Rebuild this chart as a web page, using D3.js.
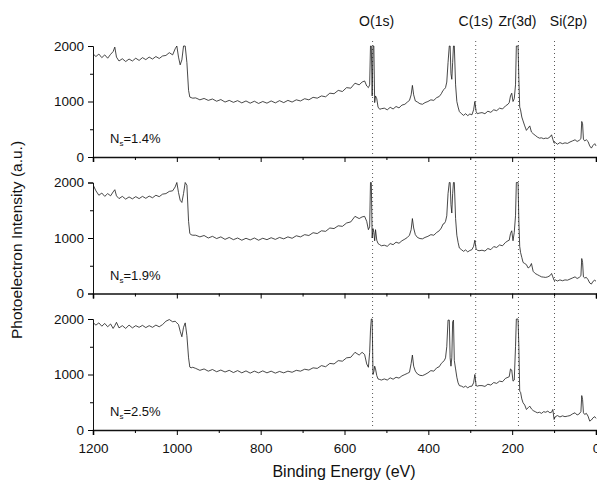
<!DOCTYPE html>
<html>
<head>
<meta charset="utf-8">
<script src="https://cdn.jsdelivr.net/npm/d3@7"></script>
<style>
  body { margin: 0; background: #fff; }
  svg { display: block; font-family: Arial, "Liberation Sans", sans-serif; }
</style>
</head>
<body>
<div id="chart"></div>
<script>
// ===== Data =====
const energy = [
  1200,1193,1186,1179,1172,1165,1158,1152,1148,1144,1138,1130,1122,1114,1106,1098,1090,1082,1074,1066,1058,1050,1042,1034,1026,1018,1010,
  1004,1000,996,992,988,984,980,976,972,969,966,962,
  955,945,935,925,915,905,895,885,875,865,855,845,835,825,815,805,795,785,775,765,755,745,735,725,715,705,695,685,675,665,655,645,635,625,615,605,595,585,575,565,
  558,552,547,543,540,538,536,534,532,530,528,526,523,520,516,512,
  505,498,491,484,477,470,463,456,
  450,445,441,438,435,431,426,420,414,
  408,401,394,387,380,374,369,365,
  362,359,356,353,350,348,346,344,342,340,338,335,332,329,326,
  321,316,311,306,301,296,
  292,289,286,283,279,
  272,265,258,251,244,237,230,223,216,210,
  207,204,201,198,195,192,190,188,186,184,182,180,177,
  174,170,166,162,158,154,150,145,140,135,130,125,120,115,110,106,
  103,100,97,92,86,80,74,68,62,56,50,45,40,36,34,32,30,27,23,19,15,11,7,3,0
];

const ns14 = [
  1860,1810,1855,1790,1840,1780,1850,1900,1980,1800,1730,1770,1720,1765,1730,1780,1740,1790,1755,1800,1765,1810,1775,1820,1830,1880,1840,
  1950,2000,1800,1660,1750,2000,2000,1700,1200,1080,1070,1060,
  1065,1030,1055,1020,1045,1005,1035,990,1020,985,1015,975,1010,970,1005,965,1000,970,1010,975,1015,980,1020,990,1030,1010,1050,1030,1075,1060,1100,1085,1150,1140,1200,1180,1250,1240,1330,1300,
  1350,1370,1280,1250,1300,2000,2000,1100,2000,2000,980,1100,1050,900,860,870,
  880,850,895,865,910,885,935,950,
  990,1020,1120,1290,1120,1010,990,960,950,
  980,1000,1030,1020,1070,1090,1140,1200,
  1220,1250,1350,1700,2000,2000,1500,1400,1700,2000,2000,1300,1000,900,820,
  780,750,780,745,775,760,
  850,1000,820,780,790,
  800,780,825,805,850,835,880,865,920,950,
  980,1100,1150,1000,1050,1300,2000,2000,2000,1400,900,850,720,
  650,560,480,520,560,450,420,390,360,340,345,330,340,335,360,400,
  320,250,260,230,260,240,255,245,270,290,310,280,300,330,640,600,320,290,310,280,200,160,210,240,200
];

const ns19 = [
  1960,1850,1770,1810,1750,1800,1760,1830,1870,1760,1710,1750,1700,1740,1705,1745,1710,1750,1715,1755,1725,1770,1745,1790,1800,1840,1850,
  1920,2000,1820,1680,1640,1800,2000,1950,1300,1080,1060,1050,
  1050,1020,1045,1000,1030,990,1020,975,1010,970,1000,960,995,965,1000,960,995,970,1005,975,1010,985,1020,995,1040,1020,1060,1045,1095,1080,1130,1120,1180,1170,1220,1210,1270,1290,1390,1350,
  1380,1390,1300,1150,1200,2000,2000,1000,1170,1100,950,1150,960,900,880,860,
  870,850,900,880,925,905,950,980,
  1010,1050,1150,1350,1180,1060,1010,990,985,
  1010,1030,1060,1050,1100,1130,1180,1250,
  1260,1300,1400,1800,2000,2000,1600,1450,1800,2000,2000,1350,1050,920,820,
  790,760,785,750,775,790,
  850,960,800,780,770,
  780,765,810,790,845,830,875,860,920,950,
  960,1080,1130,950,1100,1400,2000,2000,2000,1300,850,740,650,
  560,540,520,460,480,540,400,360,340,320,300,295,290,300,320,360,
  300,235,245,225,245,230,245,240,260,280,300,270,290,320,630,560,300,280,290,250,190,170,220,240,220
];

const ns25 = [
  1935,1890,1930,1870,1920,1860,1910,1830,1880,1940,1840,1880,1830,1890,1840,1880,1850,1885,1845,1880,1850,1890,1860,1900,1960,1990,1950,
  1960,1930,1900,1780,1680,1850,1930,1700,1300,1134,1120,1130,
  1110,1075,1100,1060,1090,1050,1080,1045,1075,1035,1070,1030,1065,1025,1060,1030,1065,1030,1060,1025,1055,1030,1060,1040,1075,1060,1095,1080,1120,1110,1160,1140,1200,1190,1250,1240,1300,1310,1400,1350,
  1400,1360,1190,1130,1400,1800,2000,2000,1000,1050,1150,1100,980,920,910,900,
  920,900,940,915,950,935,975,1000,
  1020,1040,1200,1350,1150,1060,1010,985,980,
  1000,1030,1070,1060,1120,1140,1200,1230,
  1250,1300,1500,1980,1980,1300,1150,1300,1950,1980,1250,1100,950,850,800,
  790,770,790,760,785,790,
  850,1000,800,790,800,
  800,785,825,810,855,840,880,870,930,950,
  960,1100,1080,880,900,1500,2000,2000,2000,1500,700,680,560,
  490,450,370,400,430,380,350,330,310,320,300,330,320,340,310,320,
  370,190,240,260,235,255,240,250,260,290,310,270,290,330,620,550,310,280,300,250,160,180,220,240,210
];

const series = [ns14, ns19, ns25];
const panelLabels = ['1.4%', '1.9%', '2.5%'];

const peakNames = ['O(1s)', 'C(1s)', 'Zr(3d)', 'Si(2p)'];
const peakEnergies = [533, 287, 185, 99];

const xMajorTicks = [1200, 1000, 800, 600, 400, 200, 0];
const xMinorTicks = [1100, 900, 700, 500, 300, 100];
const yMajorTicks = [0, 1000, 2000];
const yMinorTicks = [500, 1500];

// ===== Layout =====
const W = 597, H = 483;
const plotLeft = 93, plotRight = 596;
const panelTop0 = 46, panelStep = 136.5, panelH = 111;
const labelDx = [4, 0, -1, 14]; // peak label offsets from their dotted lines

const svg = d3.select('#chart')
  .append('svg')
  .attr('width', W)
  .attr('height', H);

const x = d3.scaleLinear()
  .domain([1200, 0])
  .range([plotLeft, plotRight]);

svg.append('defs').append('clipPath')
  .attr('id', 'plotclip')
  .append('rect')
  .attr('x', plotLeft)
  .attr('y', -2)
  .attr('width', plotRight - plotLeft + 1)
  .attr('height', panelH + 2);

// dotted reference lines through all panels
svg.append('g')
  .selectAll('line')
  .data(peakEnergies)
  .enter().append('line')
  .attr('x1', d => x(d))
  .attr('x2', d => x(d))
  .attr('y1', 41)
  .attr('y2', 427)
  .attr('stroke', '#444')
  .attr('stroke-width', 0.9)
  .attr('stroke-dasharray', '1,3');

svg.append('g')
  .selectAll('text')
  .data(peakNames)
  .enter().append('text')
  .attr('x', (d, i) => x(peakEnergies[i]) + labelDx[i])
  .attr('y', 26)
  .attr('text-anchor', 'middle')
  .attr('font-size', 14)
  .attr('fill', '#111')
  .text(d => d);

series.forEach((values, i) => {
  const top = panelTop0 + i * panelStep;
  const y = d3.scaleLinear()
    .domain([0, 2000])
    .range([panelH, 0]);

  const g = svg.append('g')
    .attr('transform', `translate(0,${top})`);

  // spectrum
  const line = d3.line()
    .x((d, j) => x(energy[j]))
    .y(d => y(Math.min(d, 2000)));

  g.append('path')
    .datum(values)
    .attr('clip-path', 'url(#plotclip)')
    .attr('fill', 'none')
    .attr('stroke', '#1a1a1a')
    .attr('stroke-width', 0.8)
    .attr('stroke-linejoin', 'round')
    .attr('d', line);

  // y axis
  g.append('g')
    .attr('transform', `translate(${plotLeft},0)`)
    .call(d3.axisLeft(y).tickValues(yMajorTicks).tickSize(5).tickPadding(4).tickFormat(d3.format('d')))
    .call(a => a.selectAll('text').attr('font-size', 13.5).attr('fill', '#111'))
    .call(a => a.select('.domain').attr('stroke', '#111'));

  g.append('g')
    .attr('transform', `translate(${plotLeft},0)`)
    .call(d3.axisLeft(y).tickValues(yMinorTicks).tickSize(3).tickFormat(''))
    .call(a => a.select('.domain').remove());

  // x axis
  g.append('g')
    .attr('transform', `translate(0,${panelH})`)
    .call(d3.axisBottom(x).tickValues(xMajorTicks).tickSize(5).tickPadding(8)
      .tickFormat(i === 2 ? d3.format('d') : ''))
    .call(a => a.selectAll('text').attr('font-size', 13.5).attr('fill', '#111'))
    .call(a => a.select('.domain').attr('stroke', '#111').attr('stroke-width', 1.6));

  g.append('g')
    .attr('transform', `translate(0,${panelH})`)
    .call(d3.axisBottom(x).tickValues(xMinorTicks).tickSize(3).tickFormat(''))
    .call(a => a.select('.domain').remove());

  // N_s annotation
  const ann = g.append('text')
    .attr('x', 110)
    .attr('y', panelH - 14)
    .attr('font-size', 13)
    .attr('fill', '#111');
  ann.append('tspan').text('N');
  ann.append('tspan').attr('font-size', 8).attr('dy', 3).text('s');
  ann.append('tspan').attr('dy', -3).text('=' + panelLabels[i]);
});

svg.append('text')
  .attr('transform', `translate(22,${240}) rotate(-90)`)
  .attr('text-anchor', 'middle')
  .attr('font-size', 15.5)
  .attr('fill', '#111')
  .text('Photoelectron Intensity (a.u.)');

svg.append('text')
  .attr('x', 344)
  .attr('y', 477)
  .attr('text-anchor', 'middle')
  .attr('font-size', 16)
  .attr('fill', '#111')
  .text('Binding Energy (eV)');
</script>
</body>
</html>
